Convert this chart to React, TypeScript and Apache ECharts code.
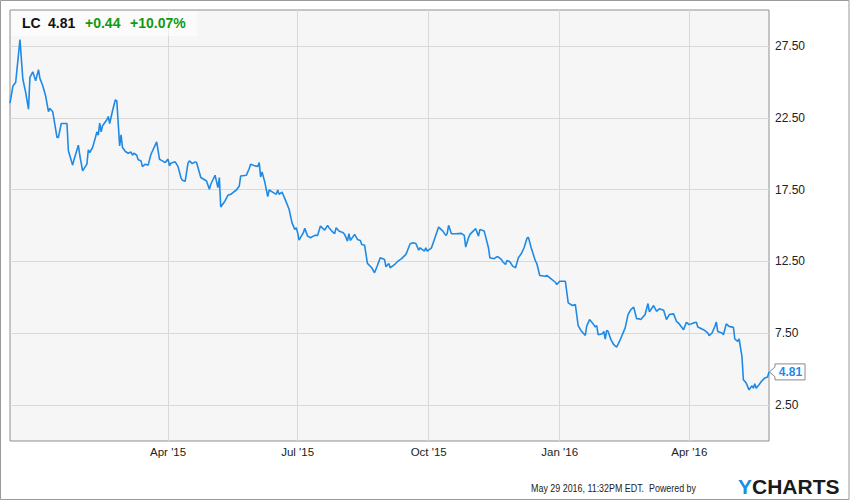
import React, { useEffect, useRef } from "react";
import * as echarts from "echarts";

const ticker = "LC";
const lastPrice = "4.81";
const changeAbs = "+0.44";
const changePct = "+10.07%";
const footerText = "May 29 2016, 11:32PM EDT.  Powered by";

const axisStart = "2014-12-11";
const axisEnd = "2016-05-27";
const quarterTicks = ["2015-04-01", "2015-07-01", "2015-10-01", "2016-01-01", "2016-04-01"];
const yLabelValues = [2.5, 7.5, 12.5, 17.5, 22.5, 27.5];
const MONTHS = ["Jan", "Feb", "Mar", "Apr", "May", "Jun", "Jul", "Aug", "Sep", "Oct", "Nov", "Dec"];

const dates = [
  "2014-12-11", "2014-12-13", "2014-12-15", "2014-12-18", "2014-12-20", "2014-12-22", "2014-12-24", "2014-12-25", "2014-12-27", "2014-12-29", "2014-12-31",
  "2015-01-01", "2015-01-03", "2015-01-05", "2015-01-07", "2015-01-08", "2015-01-10", "2015-01-13", "2015-01-14", "2015-01-16", "2015-01-20", "2015-01-21", "2015-01-24", "2015-01-25", "2015-01-28", "2015-01-29", "2015-01-31",
  "2015-02-03", "2015-02-04", "2015-02-05", "2015-02-07", "2015-02-09", "2015-02-10", "2015-02-11", "2015-02-12", "2015-02-13", "2015-02-14", "2015-02-17", "2015-02-18", "2015-02-19", "2015-02-21", "2015-02-23", "2015-02-24", "2015-02-26", "2015-02-27", "2015-02-28",
  "2015-03-02", "2015-03-04", "2015-03-06", "2015-03-07", "2015-03-08", "2015-03-10", "2015-03-11", "2015-03-13", "2015-03-14", "2015-03-16", "2015-03-18", "2015-03-20", "2015-03-24", "2015-03-26", "2015-03-28", "2015-03-30",
  "2015-04-01", "2015-04-02", "2015-04-03", "2015-04-06", "2015-04-08", "2015-04-10", "2015-04-11", "2015-04-13", "2015-04-15", "2015-04-16", "2015-04-18", "2015-04-20", "2015-04-21", "2015-04-24", "2015-04-28", "2015-04-30",
  "2015-05-01", "2015-05-04", "2015-05-06", "2015-05-07", "2015-05-08", "2015-05-11", "2015-05-13", "2015-05-15", "2015-05-17", "2015-05-19", "2015-05-21", "2015-05-22", "2015-05-26", "2015-05-28", "2015-05-29",
  "2015-06-01", "2015-06-03", "2015-06-04", "2015-06-05", "2015-06-06", "2015-06-08", "2015-06-10", "2015-06-11", "2015-06-14", "2015-06-16", "2015-06-17", "2015-06-18", "2015-06-20", "2015-06-22", "2015-06-25", "2015-06-27", "2015-06-29", "2015-06-30",
  "2015-07-01", "2015-07-02", "2015-07-05", "2015-07-06", "2015-07-08", "2015-07-10", "2015-07-13", "2015-07-15", "2015-07-17", "2015-07-20", "2015-07-22", "2015-07-23", "2015-07-25", "2015-07-27", "2015-07-28", "2015-07-30",
  "2015-08-02", "2015-08-03", "2015-08-05", "2015-08-06", "2015-08-07", "2015-08-10", "2015-08-12", "2015-08-14", "2015-08-15", "2015-08-17", "2015-08-19", "2015-08-22", "2015-08-24", "2015-08-26", "2015-08-28", "2015-08-31",
  "2015-09-01", "2015-09-03", "2015-09-04", "2015-09-07", "2015-09-09", "2015-09-12", "2015-09-15", "2015-09-16", "2015-09-18", "2015-09-20", "2015-09-22", "2015-09-24", "2015-09-25", "2015-09-28", "2015-09-29", "2015-09-30",
  "2015-10-03", "2015-10-05", "2015-10-08", "2015-10-11", "2015-10-13", "2015-10-14", "2015-10-15", "2015-10-17", "2015-10-20", "2015-10-24", "2015-10-26", "2015-10-27", "2015-10-29", "2015-10-30",
  "2015-11-03", "2015-11-05", "2015-11-06", "2015-11-09", "2015-11-12", "2015-11-13", "2015-11-16", "2015-11-18", "2015-11-19", "2015-11-21", "2015-11-22", "2015-11-24", "2015-11-25", "2015-11-27", "2015-11-29",
  "2015-12-01", "2015-12-03", "2015-12-05", "2015-12-07", "2015-12-09", "2015-12-10", "2015-12-12", "2015-12-15", "2015-12-16", "2015-12-18", "2015-12-22", "2015-12-23", "2015-12-26", "2015-12-29", "2015-12-30",
  "2016-01-01", "2016-01-05", "2016-01-07", "2016-01-10", "2016-01-12", "2016-01-14", "2016-01-16", "2016-01-19", "2016-01-20", "2016-01-22", "2016-01-24", "2016-01-26", "2016-01-27", "2016-01-28", "2016-01-31",
  "2016-02-01", "2016-02-02", "2016-02-03", "2016-02-04", "2016-02-06", "2016-02-08", "2016-02-10", "2016-02-12", "2016-02-16", "2016-02-18", "2016-02-20", "2016-02-22", "2016-02-24", "2016-02-26", "2016-02-27",
  "2016-03-01", "2016-03-03", "2016-03-04", "2016-03-07", "2016-03-09", "2016-03-11", "2016-03-14", "2016-03-16", "2016-03-18", "2016-03-21", "2016-03-23", "2016-03-25", "2016-03-28", "2016-03-30",
  "2016-04-01", "2016-04-04", "2016-04-06", "2016-04-07", "2016-04-11", "2016-04-14", "2016-04-15", "2016-04-17", "2016-04-19", "2016-04-20", "2016-04-21", "2016-04-24", "2016-04-25", "2016-04-27", "2016-04-29",
  "2016-05-02", "2016-05-03", "2016-05-05", "2016-05-06", "2016-05-08", "2016-05-09", "2016-05-11", "2016-05-13", "2016-05-15", "2016-05-16", "2016-05-17", "2016-05-18", "2016-05-20", "2016-05-22", "2016-05-24", "2016-05-26", "2016-05-27",
];

const prices = [
  23.52, 24.69, 24.97, 27.94, 25.2, 24.27, 23.1, 25.31, 25.7, 25.08, 25.85,
  25.24, 24.73, 24.03, 22.92, 23.15, 22.92, 21.13, 21.13, 22.1, 22.1, 20.2, 19.2, 19.6, 20.59, 19.89, 18.8,
  19.27, 20.27, 20.08, 20.43, 21.13, 21.52, 21.29, 22.13, 21.52, 21.94, 22.36, 22.59, 22.1, 22.99, 23.75, 23.68, 20.54, 21.31, 20.43,
  20.15, 20.03, 20.12, 19.89, 20.03, 19.89, 19.57, 19.5, 19.1, 19.27, 19.2, 19.96, 20.82, 19.61, 19.5, 19.38,
  19.62, 19.15, 19.34, 19.43, 19.1, 18.34, 18.15, 18.08, 19.34, 19.5, 19.31, 19.43, 19.38, 18.34, 18.1, 17.52,
  17.87, 18.5, 17.64, 18.34, 16.29, 16.71, 17.1, 17.17, 17.33, 17.47, 17.75, 18.45, 18.5, 18.97, 19.27,
  19.15, 19.1, 19.38, 18.38, 18.73, 17.99, 17.01, 17.47, 17.29, 17.17, 17.47, 17.17, 17.33, 16.87, 16.13, 15.2, 14.73, 14.85,
  14.5, 13.98, 14.5, 14.8, 14.26, 14.15, 14.31, 14.31, 14.96, 14.68, 15.01, 14.85, 14.61, 14.43, 14.85, 14.61,
  14.5, 14.38, 13.91, 14.43, 13.96, 14.38, 14.03, 13.96, 13.68, 13.63, 12.36, 12.06, 11.71, 12.22, 12.75, 12.64,
  12.13, 12.36, 12.06, 12.27, 12.48, 12.69, 12.99, 13.22, 13.73, 13.8, 13.75, 13.29, 13.45, 13.22, 13.45, 13.22,
  13.45, 14.03, 14.89, 14.61, 14.31, 14.43, 15.01, 14.43, 14.43, 14.45, 14.31, 13.5, 14.15, 14.38,
  14.78, 14.26, 14.73, 14.61, 13.45, 12.75, 12.69, 12.83, 12.8, 12.64, 12.48, 12.29, 12.57, 12.48, 12.17,
  12.06, 12.75, 13.03, 13.45, 14.1, 14.19, 13.45, 12.52, 12.34, 11.52, 11.47, 11.52, 11.29, 11.05, 10.89,
  11.12, 11.12, 9.61, 9.43, 9.5, 8.03, 7.68, 7.35, 8.0, 8.45, 8.22, 7.94, 8.03, 7.4, 7.47,
  7.63, 7.1, 7.7, 7.63, 7.05, 6.7, 6.54, 6.93, 7.87, 8.8, 9.15, 9.31, 8.52, 8.5, 8.45,
  8.8, 9.57, 8.99, 9.43, 9.03, 9.2, 9.1, 8.45, 8.8, 8.85, 8.33, 8.15, 7.75, 8.26,
  8.1, 8.22, 8.26, 7.94, 7.75, 7.52, 7.33, 7.52, 7.98, 8.29, 7.63, 7.52, 7.4, 8.15, 7.98,
  7.91, 7.1, 6.93, 7.1, 5.89, 4.26, 4.03, 3.56, 3.84, 3.68, 3.98, 3.68, 3.91, 4.19, 4.38, 4.45, 4.81,
];

const FONT = "'Liberation Sans', Arial, sans-serif";
const LINE_BLUE = "#1f8ae6";
const GREEN = "#119a11";

function toTs(s: string): number {
  const [y, m, d] = s.split("-").map(Number);
  return new Date(y, m - 1, d).getTime();
}

function fmtQuarter(v: number): string {
  const d = new Date(v);
  return `${MONTHS[d.getMonth()]} '${String(d.getFullYear()).slice(2)}`;
}

export default function App() {
  const ref = useRef<HTMLDivElement>(null);

  useEffect(() => {
    document.body.style.margin = "0";
    const chart = echarts.init(ref.current as HTMLDivElement, null, { renderer: "svg" });
    const data = dates.map((d, i) => [toTs(d), prices[i]]);
    const ticks = quarterTicks.map(toTs);

    const baseGraphics: any[] = [
      {
        type: "rect",
        id: "frame",
        shape: { x: 0.5, y: 0.5, width: 848.5, height: 499 },
        style: { fill: "none", stroke: "#9a9a9a", lineWidth: 1 },
        z: 100,
      },
      {
        type: "rect",
        id: "legendBox",
        shape: { x: 11, y: 11, width: 186, height: 25 },
        style: { fill: "rgba(255,255,255,0.55)" },
        z: 100,
      },
      { type: "text", id: "t1", x: 22, y: 23, z: 101, style: { text: ticker, font: `bold 14px ${FONT}`, fill: "#111", verticalAlign: "middle" } },
      { type: "text", id: "t2", x: 48, y: 23, z: 101, style: { text: lastPrice, font: `bold 14px ${FONT}`, fill: "#111", verticalAlign: "middle" } },
      { type: "text", id: "t3", x: 85, y: 23, z: 101, style: { text: changeAbs, font: `bold 14px ${FONT}`, fill: GREEN, verticalAlign: "middle" } },
      { type: "text", id: "t4", x: 130, y: 23, z: 101, style: { text: changePct, font: `bold 14px ${FONT}`, fill: GREEN, verticalAlign: "middle" } },
      {
        type: "text",
        id: "footer",
        x: 696,
        y: 488,
        scaleX: 0.775,
        z: 101,
        style: { text: footerText, font: `11.5px ${FONT}`, fill: "#222", align: "right", verticalAlign: "middle" },
      },
      {
        type: "text",
        id: "logo",
        x: 738,
        y: 486,
        z: 101,
        style: {
          text: "{y|Y}{c|CHARTS}",
          verticalAlign: "middle",
          rich: {
            y: { font: `bold 21px ${FONT}`, fill: "#1b8fe0" },
            c: { font: `bold 21px ${FONT}`, fill: "#1a1a1a" },
          },
        },
      },
    ];

    chart.setOption({
      animation: false,
      grid: {
        left: 10,
        top: 10,
        right: 81,
        bottom: 60,
        show: true,
        backgroundColor: "#f6f6f6",
        borderColor: "#8f8f8f",
        borderWidth: 1,
      },
      xAxis: {
        type: "value",
        min: toTs(axisStart),
        max: toTs(axisEnd),
        axisLine: { show: false },
        axisTick: { show: false, customValues: ticks },
        axisLabel: {
          customValues: ticks,
          formatter: (v: number) => fmtQuarter(v),
          color: "#222",
          fontFamily: FONT,
          fontSize: 11.5,
          margin: 5,
        },
        splitLine: { show: true, lineStyle: { color: "#d9d9d9", width: 1 } },
      },
      yAxis: {
        type: "value",
        position: "right",
        min: 0,
        max: 30,
        interval: 2.5,
        axisLine: { show: false },
        axisTick: { show: false },
        axisLabel: {
          formatter: (v: number) => (yLabelValues.some((t) => Math.abs(t - v) < 1e-6) ? v.toFixed(2) : ""),
          color: "#222",
          fontFamily: FONT,
          fontSize: 12,
          margin: 6,
        },
        splitLine: { show: true, lineStyle: { color: ["rgba(0,0,0,0)", "#d9d9d9"], width: 1 } },
      },
      series: [
        {
          type: "line",
          data,
          showSymbol: false,
          lineStyle: { color: LINE_BLUE, width: 1.6 },
          itemStyle: { color: LINE_BLUE },
          z: 3,
        },
      ],
      graphic: baseGraphics,
    });

    const last = data[data.length - 1];
    const [px, py] = chart.convertToPixel({ gridIndex: 0 }, last) as number[];
    const left = px + 6;
    const right = px + 36;
    const top = py - 8;
    const bottom = py + 8;
    chart.setOption({
      graphic: [
        ...baseGraphics,
        {
          type: "polygon",
          id: "lastBox",
          z: 102,
          shape: {
            points: [
              [px + 0.5, py],
              [left, py - 5],
              [left, top],
              [right, top],
              [right, bottom],
              [left, bottom],
              [left, py + 5],
            ],
          },
          style: { fill: "#ffffff", stroke: "#8a8a8a", lineWidth: 1 },
        },
        {
          type: "text",
          id: "lastText",
          z: 103,
          x: (left + right) / 2 + 0.5,
          y: py + 0.5,
          style: { text: lastPrice, font: `bold 12px ${FONT}`, fill: LINE_BLUE, align: "center", verticalAlign: "middle" },
        },
      ],
    });

    return () => chart.dispose();
  }, []);

  return <div ref={ref} style={{ width: 850, height: 501 }} />;
}
